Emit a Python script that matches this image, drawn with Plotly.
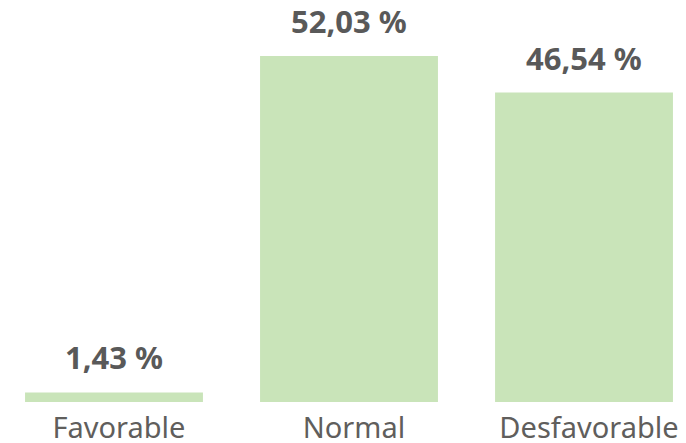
import plotly.graph_objects as go

categories = ["Favorable", "Normal", "Desfavorable"]
values = [1.43, 52.03, 46.54]
value_labels = ["1,43 %", "52,03 %", "46,54 %"]

BAR_COLOR = "#C9E4B9"
LABEL_COLOR = "#595959"
TICK_COLOR = "#605E5C"
FONT = "Noto Sans"

fig = go.Figure()
fig.add_trace(go.Bar(
    x=categories,
    y=values,
    marker=dict(color=BAR_COLOR, line=dict(width=0)),
    width=0.757,
    hoverinfo="skip",
))

for cat, val, lab in zip(categories, values, value_labels):
    fig.add_annotation(
        x=cat, y=val, text="<b>" + lab + "</b>",
        showarrow=False, yanchor="bottom", yshift=12,
        font=dict(family=FONT, size=31, color=LABEL_COLOR),
    )

fig.update_layout(
    width=678, height=435,
    margin=dict(l=0, r=0, t=0, b=41, pad=0),
    paper_bgcolor="white", plot_bgcolor="white",
    showlegend=False,
    font=dict(family=FONT),
)
fig.update_xaxes(
    range=[-0.451, 2.434],
    showgrid=False, zeroline=False, showline=False, ticks="",
    tickfont=dict(family=FONT, size=29, color=TICK_COLOR),
    ticklabelstandoff=6,
    ticklabelshift=5,
    automargin=False,
)
fig.update_yaxes(
    range=[0, 59.25],
    showgrid=False, zeroline=False, showline=False,
    showticklabels=False, ticks="",
    automargin=False,
)

fig.write_html("out.html")
